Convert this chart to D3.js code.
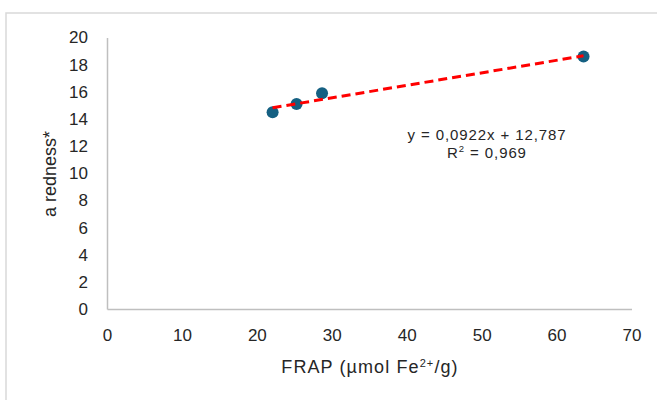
<!DOCTYPE html>
<html>
<head>
<meta charset="utf-8">
<script src="https://cdn.jsdelivr.net/npm/d3@7"></script>
<style>
  html, body { margin: 0; padding: 0; background: #fff; }
  svg { display: block; font-family: "Liberation Sans", Arial, sans-serif; }
  .tick text { fill: #262626; }
</style>
</head>
<body>
<svg id="chart" width="657" height="400"></svg>
<script>
// --- Data ---
const frapValues = [22.1, 25.3, 28.7, 63.6];
const rednessValues = [14.5, 15.1, 15.9, 18.6];
const xTicks = [0, 10, 20, 30, 40, 50, 60, 70];
const yTicks = [0, 2, 4, 6, 8, 10, 12, 14, 16, 18, 20];
const trendSlope = 0.0922;
const trendIntercept = 12.787;
const equationText = 'y = 0,0922x + 12,787';
const r2Text = '0,969';

const svg = d3.select('#chart');

// chart frame (cut off at right and bottom like the source)
svg.append('rect')
    .attr('x', 6).attr('y', 13)
    .attr('width', 700).attr('height', 450)
    .attr('fill', '#fff').attr('stroke', '#d9d9d9').attr('stroke-width', 1.5);

const xScale = d3.scaleLinear().domain([0, 70]).range([107, 631.5]);
const yScale = d3.scaleLinear().domain([0, 20]).range([309, 37.5]);

// --- Axes ---
const xAxis = svg.append('g')
    .attr('transform', `translate(0,${yScale(0)})`)
    .call(d3.axisBottom(xScale).tickValues(xTicks).tickSize(0).tickPadding(19.5).tickFormat(d3.format('d')));
const yAxis = svg.append('g')
    .attr('transform', `translate(${xScale(0)},0)`)
    .call(d3.axisLeft(yScale).tickValues(yTicks).tickSize(0).tickPadding(19).tickFormat(d3.format('d')));

[xAxis, yAxis].forEach(g => {
    g.select('.domain').attr('stroke', '#bfbfbf').attr('stroke-width', 1.5);
    g.selectAll('.tick text')
        .style('font-family', '"Liberation Sans", Arial, sans-serif')
        .style('font-size', '17px');
});

// axis titles
svg.append('text')
    .attr('x', 370).attr('y', 373)
    .attr('text-anchor', 'middle')
    .style('font-size', '18px').style('letter-spacing', '1.1px').style('fill', '#262626')
    .call(t => {
        t.append('tspan').text('FRAP (µmol Fe');
        t.append('tspan').attr('dy', -6).style('font-size', '11px').text('2+');
        t.append('tspan').attr('dy', 6).text('/g)');
    });

svg.append('text')
    .attr('transform', 'translate(56,174) rotate(-90)')
    .attr('text-anchor', 'middle')
    .style('font-size', '18px').style('fill', '#262626')
    .text('a redness*');

// --- Points ---
svg.append('g').selectAll('circle')
    .data(frapValues.map((x, i) => ({ x, y: rednessValues[i] })))
    .join('circle')
    .attr('cx', d => xScale(d.x))
    .attr('cy', d => yScale(d.y))
    .attr('r', 6)
    .attr('fill', '#156082');

// --- Linear trendline from the displayed equation ---
const [xMin, xMax] = d3.extent(frapValues);
svg.append('line')
    .attr('x1', xScale(xMin)).attr('y1', yScale(trendSlope * xMin + trendIntercept))
    .attr('x2', xScale(xMax)).attr('y2', yScale(trendSlope * xMax + trendIntercept))
    .attr('stroke', '#ff0000')
    .attr('stroke-width', 3)
    .attr('stroke-dasharray', '9,5');

// --- Equation label ---
svg.append('text')
    .attr('x', 487).attr('y', 140)
    .attr('text-anchor', 'middle')
    .style('font-size', '15px').style('letter-spacing', '0.9px').style('fill', '#262626')
    .text(equationText);

svg.append('text')
    .attr('x', 487).attr('y', 158)
    .attr('text-anchor', 'middle')
    .style('font-size', '15px').style('letter-spacing', '0.9px').style('fill', '#262626')
    .call(t => {
        t.append('tspan').text('R');
        t.append('tspan').attr('dy', -6).style('font-size', '9.5px').text('2');
        t.append('tspan').attr('dy', 6).text(' = ' + r2Text);
    });
</script>
</body>
</html>
